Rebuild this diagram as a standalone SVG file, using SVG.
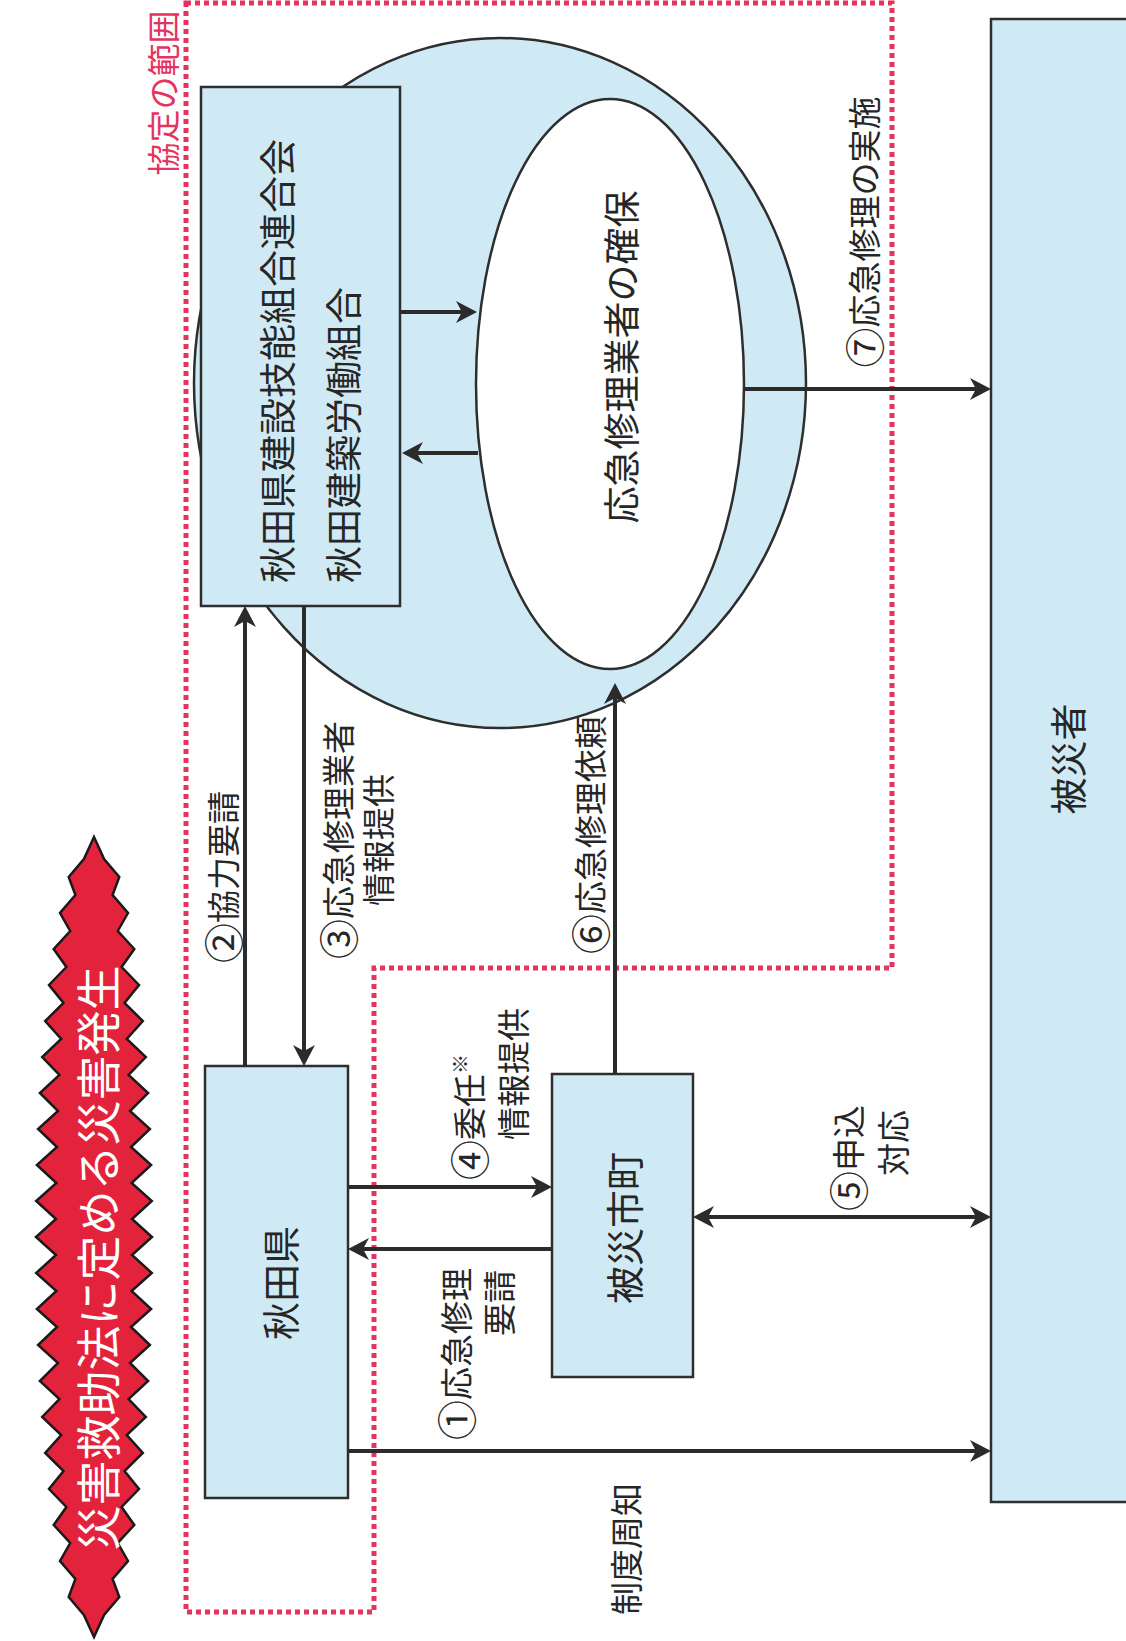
<svg xmlns="http://www.w3.org/2000/svg" width="1126" height="1641" viewBox="0 0 1126 1641">
<defs>
<style>
.box{fill:#cfeaf4;stroke:#2e2e2e;stroke-width:2.5}
.t{font-family:'Noto Sans CJK JP','Noto Sans CJK SC',sans-serif;fill:#262626;dominant-baseline:central}
.n{font-size:37px}
.l{font-size:33px}
.d{font-size:40px}
.c{stroke:#2b2b2b;stroke-width:4;fill:none}
.ae{marker-end:url(#ah)}
.as{marker-start:url(#ah)}
</style>
<marker id="ah" markerUnits="userSpaceOnUse" markerWidth="22" markerHeight="22" refX="13" refY="11" orient="auto-start-reverse" viewBox="0 0 22 22"><path d="M0,0 L21,11 L0,22 L6,11 Z" fill="#2b2b2b"/></marker>
</defs>
<rect x="0" y="0" width="1126" height="1641" fill="#ffffff"/>

<g id="scope">
<path d="M186 3 L892 3 L892 968 L374 968 L374 1612 L186 1612 Z" fill="none" stroke="#e5335f" stroke-width="5" stroke-dasharray="5 4"/>
<text class="t" transform="translate(162,93) rotate(-90)" text-anchor="middle" font-size="33" style="fill:#e5335f">協定の範囲</text>
</g>

<g id="burst">
<polygon points="94,837 104.1,859 119.3,877 112.6,895 128.0,913 117.8,931 134.3,949 121.6,967 139.0,985 124.5,1003 142.8,1021 126.8,1039 145.8,1057 128.6,1075 148.1,1093 130.0,1111 149.9,1129 131.0,1147 151.1,1165 131.6,1183 151.8,1201 132.0,1219 152,1237 132.0,1255 151.8,1273 131.6,1291 151.1,1309 131.0,1327 149.9,1345 130.0,1363 148.1,1381 128.6,1399 145.8,1417 126.8,1435 142.8,1453 124.5,1471 139.0,1489 121.6,1507 134.3,1525 117.8,1543 128.0,1561 112.6,1579 119.3,1597 104.1,1615 94,1637 83.9,1615 68.7,1597 75.4,1579 60.0,1561 70.2,1543 53.7,1525 66.4,1507 49.0,1489 63.5,1471 45.2,1453 61.2,1435 42.2,1417 59.4,1399 39.9,1381 58.0,1363 38.1,1345 57.0,1327 36.9,1309 56.4,1291 36.2,1273 56.0,1255 36,1237 56.0,1219 36.2,1201 56.4,1183 36.9,1165 57.0,1147 38.1,1129 58.0,1111 39.9,1093 59.4,1075 42.2,1057 61.2,1039 45.2,1021 63.5,1003 49.0,985 66.4,967 53.7,949 70.2,931 60.0,913 75.4,895 68.7,877 83.9,859" fill="#e3233b" stroke="#1a1a1a" stroke-width="2.5" stroke-linejoin="miter"/>
<text class="t" transform="translate(96,1258) rotate(-90)" text-anchor="middle" font-size="45" style="fill:#ffffff">災害救助法に定める災害発生</text>
</g>

<g id="pool">
<ellipse cx="500" cy="383" rx="306" ry="345" fill="#cfeaf4" stroke="#2e2e2e" stroke-width="2.5"/>
</g>

<g id="union">
<rect class="box" x="201" y="87" width="199" height="519"/>
<text class="t n" transform="translate(276,583) rotate(-90)" text-anchor="start">秋田県建設技能組合連合会</text>
<text class="t n" transform="translate(342,583) rotate(-90)" text-anchor="start">秋田建築労働組合</text>
</g>

<g id="secure">
<ellipse cx="610" cy="384" rx="134" ry="285" fill="#ffffff" stroke="#2e2e2e" stroke-width="2.5"/>
<text class="t n" transform="translate(620,357) rotate(-90)" text-anchor="middle">応急修理業者の確保</text>
</g>

<g id="pref">
<rect class="box" x="205" y="1066" width="143" height="432"/>
<text class="t" transform="translate(278,1283) rotate(-90)" text-anchor="middle" font-size="38">秋田県</text>
</g>

<g id="city">
<rect class="box" x="552" y="1074" width="141" height="303"/>
<text class="t" transform="translate(622,1228) rotate(-90)" text-anchor="middle" font-size="38">被災市町</text>
</g>

<g id="victims">
<rect class="box" x="991" y="19" width="150" height="1483"/>
<text class="t" transform="translate(1067,759) rotate(-90)" text-anchor="middle" font-size="37">被災者</text>
</g>

<g id="connectors">
<path class="c ae" d="M245 1066 V614"/>
<path class="c ae" d="M304 606 V1058"/>
<path class="c ae" d="M348 1187 H544"/>
<path class="c ae" d="M552 1249 H356"/>
<path class="c ae" d="M348 1451 H983"/>
<path class="c ae as" d="M701 1217 H983"/>
<path class="c ae" d="M615 1074 V691"/>
<path class="c ae" d="M745 389 H983"/>
<path class="c ae" d="M400 312 H469"/>
<path class="c ae" d="M478 453 H410"/>
</g>

<g id="labels">
<text class="t l" transform="translate(222,877) rotate(-90)" text-anchor="middle"><tspan class="d">②</tspan>協力要請</text>
<text class="t l" transform="translate(337,840) rotate(-90)" text-anchor="middle"><tspan class="d">③</tspan>応急修理業者</text>
<text class="t l" transform="translate(377,840) rotate(-90)" text-anchor="middle">情報提供</text>
<text class="t l" transform="translate(589,835) rotate(-90)" text-anchor="middle"><tspan class="d">⑥</tspan>応急修理依頼</text>
<text class="t l" transform="translate(863,232) rotate(-90)" text-anchor="middle"><tspan class="d">⑦</tspan>応急修理の実施</text>
<text class="t l" transform="translate(468,1180) rotate(-90)" text-anchor="start"><tspan class="d">④</tspan>委任<tspan font-size="20" dy="-9">※</tspan></text>
<text class="t l" transform="translate(512,1140) rotate(-90)" text-anchor="start">情報提供</text>
<text class="t l" transform="translate(455,1440) rotate(-90)" text-anchor="start"><tspan class="d">①</tspan>応急修理</text>
<text class="t l" transform="translate(498,1270) rotate(-90)" text-anchor="end">要請</text>
<text class="t l" transform="translate(847,1211) rotate(-90)" text-anchor="start"><tspan class="d">⑤</tspan>申込</text>
<text class="t l" transform="translate(892,1110) rotate(-90)" text-anchor="end">対応</text>
<text class="t l" transform="translate(625,1549) rotate(-90)" text-anchor="middle">制度周知</text>
</g>
</svg>
